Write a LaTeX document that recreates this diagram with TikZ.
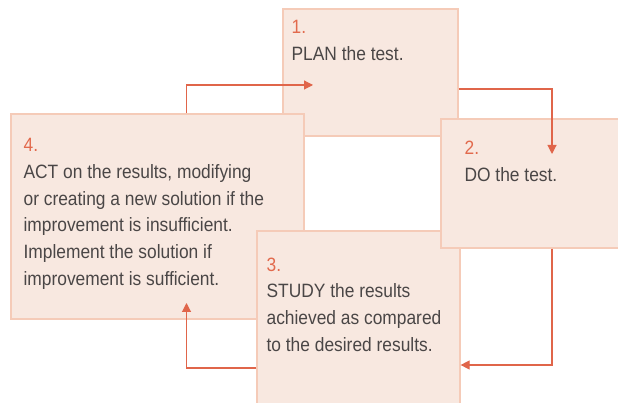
\documentclass[tikz,border=0pt]{standalone}
\usepackage{fontspec}
\setmainfont[FakeStretch=0.9]{Liberation Sans}
\usepackage{tikz}
\usetikzlibrary{positioning,arrows.meta}

\definecolor{boxfill}{HTML}{F8E8E0}
\definecolor{boxline}{HTML}{F5CBB8}
\definecolor{flowcol}{HTML}{E0654A}
\definecolor{numcol}{HTML}{E26A4D}
\definecolor{txtcol}{HTML}{4A4646}

\begin{document}
\begin{tikzpicture}[x=1pt, y=1pt, >={Triangle[length=9pt,width=9pt]},
    stage/.style={draw=boxline, line width=1.2pt, fill=boxfill, rectangle, inner sep=0pt},
    stagetext/.style={anchor=base west, align=left, inner sep=0pt, text=txtcol,
        font=\fontsize{19.3}{26.7}\selectfont},
    flow/.style={->, draw=flowcol, line width=1.1pt}]

            \useasboundingbox (0,0) rectangle (618,403);
            \clip (0,0) rectangle (618,403);

            % boxes (back to front)
                \node [stage, minimum width=175pt, minimum height=127pt] (plan) at (370.5,330.5) {};
                \node [stage, minimum width=293pt, minimum height=205pt] (act) at (157.5,186.5) {};
                \node [stage, minimum width=203pt, minimum height=180pt] (study) at (358.5,82) {};
                \node [stage, minimum width=186pt, minimum height=129pt] (do) at (534,219.5) {};

            % texts (placed by the baseline of their last line)
            \node [stagetext] (plan-text) at ([xshift=9pt,yshift=-52pt]plan.north west)
                {\textcolor{numcol}{1.}\\PLAN the test.};
            \node [stagetext] (do-text) at ([xshift=24pt,yshift=-63pt]do.north west)
                {\textcolor{numcol}{2.}\\DO the test.};
            \node [stagetext] (study-text) at ([xshift=10pt,yshift=-121pt]study.north west)
                {\textcolor{numcol}{3.}\\STUDY the results\\achieved as compared\\to the desired results.};
            \node [stagetext] (act-text) at ([xshift=13pt,yshift=-172pt]act.north west)
                {\textcolor{numcol}{4.}\\ACT on the results, modifying\\or creating a new solution if the\\improvement is insufficient.\\Implement the solution if\\improvement is sufficient.};

            % arrow tips inside the boxes
            \coordinate (tip-do) at (552,249);
            \coordinate (tip-act) at (186.5,100);
            \coordinate (tip-plan) at (313,318);

            % cycle
            \draw [flow] ([yshift=-16.5pt]plan.east) -| (tip-do);
            \draw [flow] (do.south -| tip-do) |- ([yshift=-44pt]study.east);
            \draw [flow] ([yshift=-47pt]study.west) -| (tip-act);
            \draw [flow] (act.north -| tip-act) |- (tip-plan);

\end{tikzpicture}
\end{document}
